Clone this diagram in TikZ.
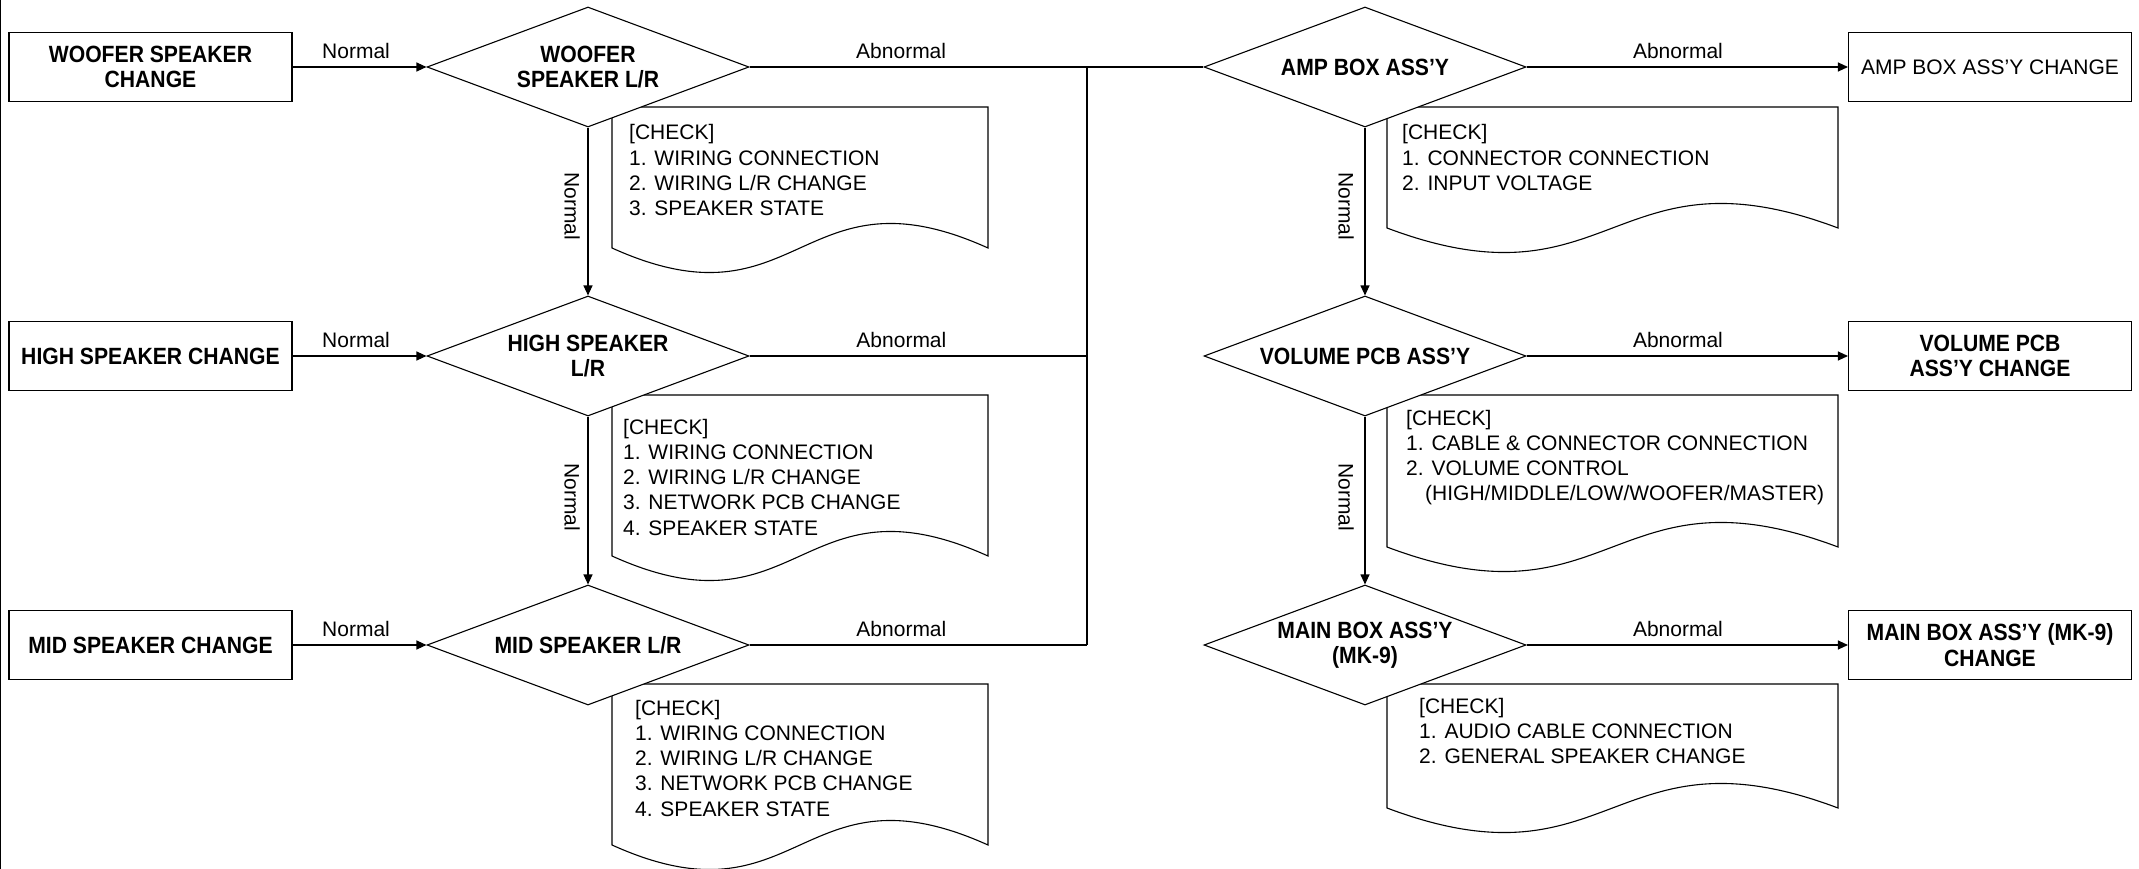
\documentclass[tikz,border=0pt]{standalone}
\usepackage{fontspec}
\setmainfont{Liberation Sans}
\newfontfamily\bfnt{Liberation Sans}[FakeStretch=0.9]
\usetikzlibrary{shapes.geometric,arrows.meta}
\newcommand\bxfont{\bfnt\bfseries\fontsize{23.5}{25.5}\selectfont}
\newcommand\rgfont{\fontsize{21}{25.3}\selectfont}
\newcommand\docpath[5]{\draw[ln] (#1,#4) -- (#1,#2) -- (#3,#2) -- (#3,#4) .. controls ({(#1+#3)/2},{#4-#5}) and ({(#1+#3)/2},{#4+#5}) .. (#1,#4) -- cycle;}
\begin{document}
\begin{tikzpicture}[x=1pt,y=-1pt,
  ln/.style={draw=black,line width=1.1pt},
  box/.style={ln, rectangle, minimum width=283pt, minimum height=69pt, inner sep=0pt, align=center, font=\bxfont},
  dia/.style={ln, fill=white, diamond, minimum width=322pt, minimum height=120pt, inner sep=0pt},
  lab/.style={font=\bxfont, align=center, inner sep=0pt},
  lbl/.style={font=\rgfont, inner sep=0pt},
  arr/.style={-{Triangle[length=10pt,width=9pt]}},
  doctext/.style={anchor=base west, inner sep=0pt, font=\rgfont}]
\useasboundingbox (0,0) rectangle (2139,869);
\draw[line width=1pt] (0.5,0) -- (0.5,869);

% documents (drawn first, behind diamonds)
\docpath{612}{107}{988}{248}{85}
\docpath{612}{395}{988}{556}{85}
\docpath{612}{684}{988}{845}{85}
\docpath{1387}{107}{1838}{228}{85}
\docpath{1387}{395}{1838}{547}{85}
\docpath{1387}{684}{1838}{808}{85}

\node[doctext] (c1) at (629,140) {\begin{tabular}[t]{@{}l@{}}[CHECK]\\1. WIRING CONNECTION\\2. WIRING L/R CHANGE\\3. SPEAKER STATE\end{tabular}};
\node[doctext] (c2) at (623,434) {\begin{tabular}[t]{@{}l@{}}[CHECK]\\1. WIRING CONNECTION\\2. WIRING L/R CHANGE\\3. NETWORK PCB CHANGE\\4. SPEAKER STATE\end{tabular}};
\node[doctext] (c3) at (635,715) {\begin{tabular}[t]{@{}l@{}}[CHECK]\\1. WIRING CONNECTION\\2. WIRING L/R CHANGE\\3. NETWORK PCB CHANGE\\4. SPEAKER STATE\end{tabular}};
\node[doctext] (c4) at (1402,140) {\begin{tabular}[t]{@{}l@{}}[CHECK]\\1. CONNECTOR CONNECTION\\2. INPUT VOLTAGE\end{tabular}};
\node[doctext] (c5) at (1406,425) {\begin{tabular}[t]{@{}l@{}}[CHECK]\\1. CABLE \& CONNECTOR CONNECTION\\2. VOLUME CONTROL\\\hspace*{19pt}(HIGH/MIDDLE/LOW/WOOFER/MASTER)\end{tabular}};
\node[doctext] (c6) at (1419,713) {\begin{tabular}[t]{@{}l@{}}[CHECK]\\1. AUDIO CABLE CONNECTION\\2. GENERAL SPEAKER CHANGE\end{tabular}};

% boxes
\node[box] (wb) at (150.5,67) {WOOFER SPEAKER\\CHANGE};
\node[box] (hb) at (150.5,356) {HIGH SPEAKER CHANGE};
\node[box] (mb) at (150.5,645) {MID SPEAKER CHANGE};
\node[box, font=\rgfont] (ab) at (1990,67) {AMP BOX ASS’Y CHANGE};
\node[box] (vb) at (1990,356) {VOLUME PCB\\ASS’Y CHANGE};
\node[box] (mkb) at (1990,645) {MAIN BOX ASS’Y (MK-9)\\CHANGE};

% diamonds
\node[dia, label={[lab]center:{WOOFER\\SPEAKER L/R}}] (wd) at (588,67) {};
\node[dia, label={[lab]center:{HIGH SPEAKER\\L/R}}] (hd) at (588,356) {};
\node[dia, label={[lab]center:{MID SPEAKER L/R}}] (md) at (588,645) {};
\node[dia, label={[lab]center:{AMP BOX ASS’Y}}] (ad) at (1365,67) {};
\node[dia, label={[lab]center:{VOLUME PCB ASS’Y}}] (vd) at (1365,356) {};
\node[dia, label={[lab]center:{MAIN BOX ASS’Y\\(MK-9)}}] (kd) at (1365,645) {};

\coordinate (bus1) at (1087,67);
\coordinate (bus3) at (1087,645);

% connectors
\draw[ln,arr] (wb.east) -- node[lbl,pos=0.474,above=7.5pt] {Normal} (wd.west);
\draw[ln,arr] (hb.east) -- node[lbl,pos=0.474,above=7.5pt] {Normal} (hd.west);
\draw[ln,arr] (mb.east) -- node[lbl,pos=0.474,above=7.5pt] {Normal} (md.west);

\draw[ln,arr] (wd.south) -- node[lbl,pos=0.47,xshift=-16pt,rotate=-90] {Normal} (hd.north);
\draw[ln,arr] (hd.south) -- node[lbl,pos=0.48,xshift=-16pt,rotate=-90] {Normal} (md.north);
\draw[ln,arr] (ad.south) -- node[lbl,pos=0.47,xshift=-19pt,rotate=-90] {Normal} (vd.north);
\draw[ln,arr] (vd.south) -- node[lbl,pos=0.48,xshift=-19pt,rotate=-90] {Normal} (kd.north);

\draw[ln] (wd.east) -- node[lbl,pos=0.334,above=7.5pt] {Abnormal} (ad.west);
\draw[ln] (hd.east) -- node[lbl,pos=0.45,above=7.5pt] {Abnormal} (hd.east -| bus1);
\draw[ln] (md.east) -- node[lbl,pos=0.45,above=7.5pt] {Abnormal} (bus3);
\draw[ln] (bus1) -- (bus3);

\draw[ln,arr] (ad.east) -- node[lbl,pos=0.471,above=7.5pt] {Abnormal} (ab.west);
\draw[ln,arr] (vd.east) -- node[lbl,pos=0.471,above=7.5pt] {Abnormal} (vb.west);
\draw[ln,arr] (kd.east) -- node[lbl,pos=0.471,above=7.5pt] {Abnormal} (mkb.west);
\end{tikzpicture}
\end{document}
